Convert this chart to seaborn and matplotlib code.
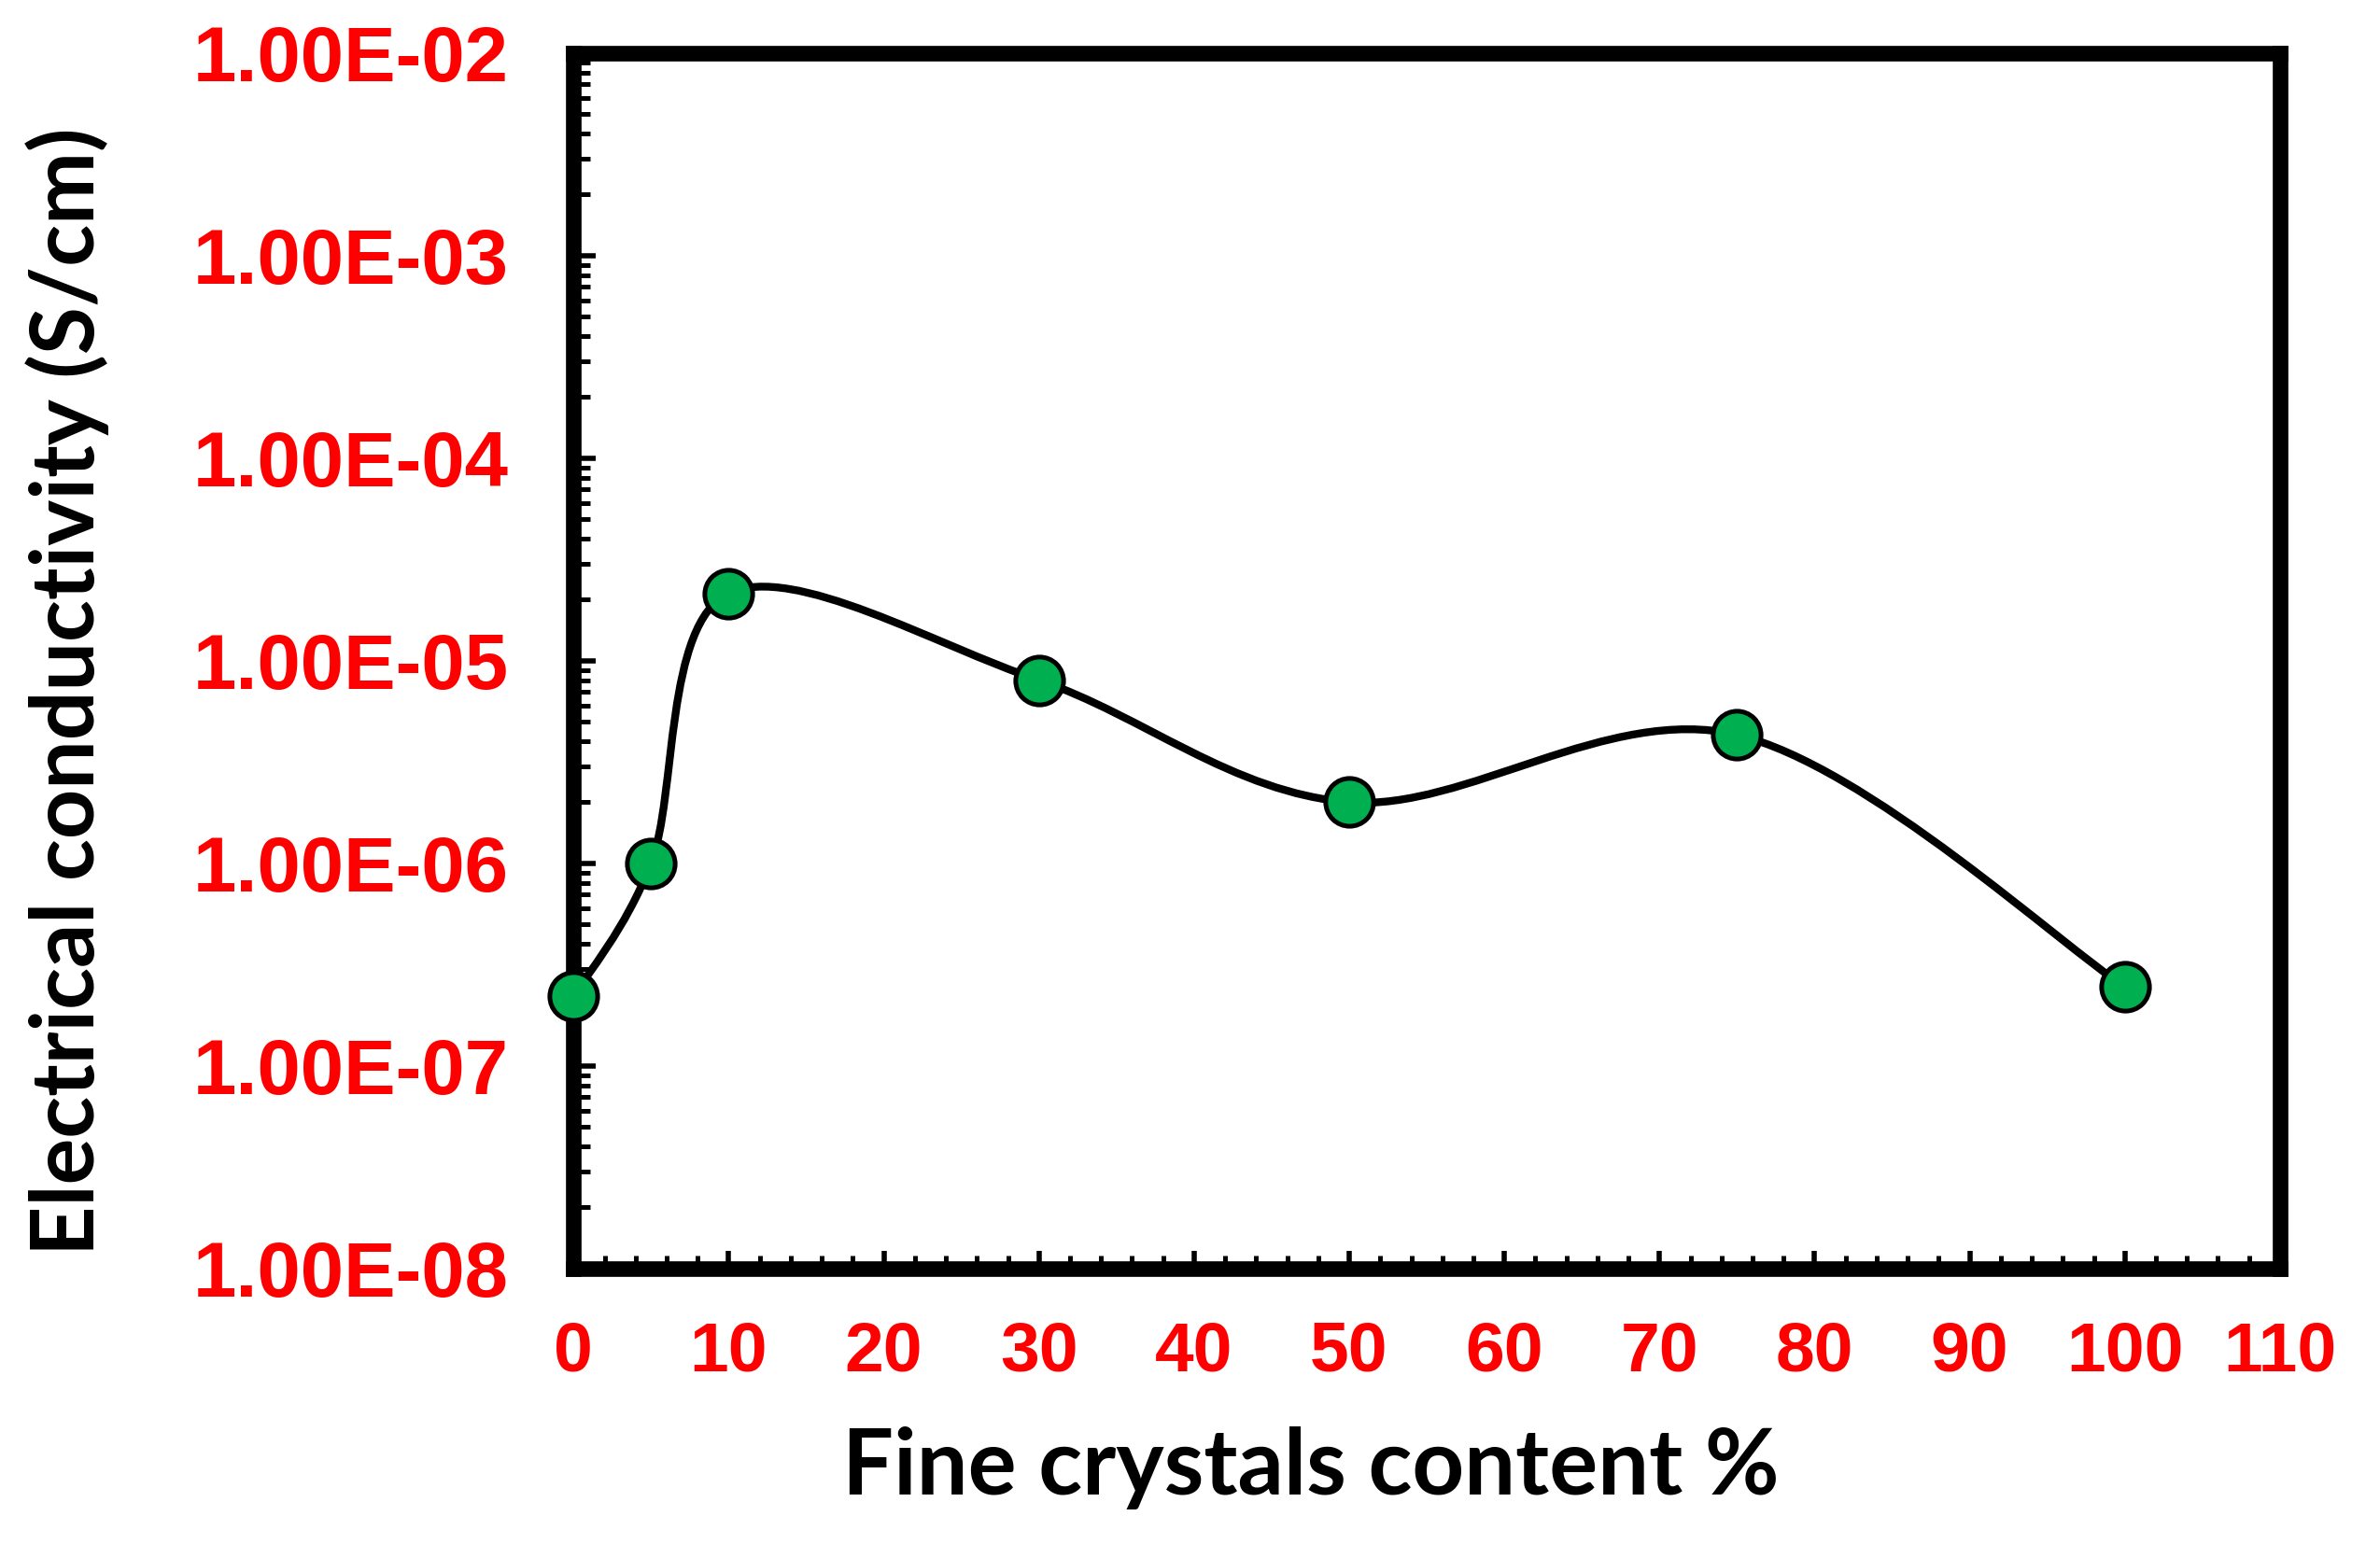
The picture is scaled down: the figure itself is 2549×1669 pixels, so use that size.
import numpy as np
import pandas as pd
import matplotlib
matplotlib.use("Agg")
import matplotlib.pyplot as plt
import seaborn as sns
from matplotlib.path import Path
from matplotlib.patches import PathPatch
from matplotlib.ticker import MultipleLocator, LogLocator, FuncFormatter, NullFormatter

# data
content = [0, 5, 10, 30, 50, 75, 100]
conductivity = [2.2e-7, 1.0e-6, 2.15e-5, 8.0e-6, 2.0e-6, 4.3e-6, 2.45e-7]

x_ticks = list(range(0, 111, 10))
y_ticks = [1e-8, 1e-7, 1e-6, 1e-5, 1e-4, 1e-3, 1e-2]

sns.set_style("white")
plt.rcParams['font.family'] = ['Liberation Sans', 'DejaVu Sans']

df = pd.DataFrame({'content': content, 'conductivity': conductivity})

fig = plt.figure(figsize=(12.745, 8.345), dpi=200)
ax = fig.add_axes([0.241, 0.186, 0.717, 0.780])
ax.set_yscale('log')

# smoothed line (Excel-style bezier through the points, built in x / log10(y) space)
lx = np.array(content, dtype=float)
ly = np.log10(conductivity)
n = len(lx)
verts = [(lx[0], ly[0])]
codes = [Path.MOVETO]
for i in range(n - 1):
    a = i - 1 if i > 0 else i
    b = i + 2 if i + 2 < n else i + 1
    c1 = (lx[i] + (lx[i + 1] - lx[a]) / 6, ly[i] + (ly[i + 1] - ly[a]) / 6)
    c2 = (lx[i + 1] - (lx[b] - lx[i]) / 6, ly[i + 1] - (ly[b] - ly[i]) / 6)
    verts += [c1, c2, (lx[i + 1], ly[i + 1])]
    codes += [Path.CURVE4] * 3
verts = [(vx, 10 ** vy) for vx, vy in verts]
ax.add_patch(PathPatch(Path(verts, codes), facecolor='none', edgecolor='black',
                       lw=3.0, zorder=2, clip_on=False))

sns.scatterplot(data=df, x='content', y='conductivity', ax=ax, s=340,
                color='#00B050', edgecolor='black', linewidth=1.8, zorder=3,
                clip_on=False, legend=False)

ax.set_xlim(0, 110)
ax.set_ylim(1e-8, 1e-2)
ax.set_xticks(x_ticks)
ax.xaxis.set_minor_locator(MultipleLocator(2))
ax.set_yticks(y_ticks)
ax.yaxis.set_minor_locator(LogLocator(base=10, subs=np.arange(2, 10)))
ax.yaxis.set_minor_formatter(NullFormatter())
ax.yaxis.set_major_formatter(FuncFormatter(lambda v, p: f"{v:.2E}"))

for s in ax.spines.values():
    s.set_linewidth(6)
    s.set_color('black')

ax.tick_params(axis='both', which='both', direction='in', color='black',
               bottom=True, left=True, top=False, right=False)
ax.tick_params(axis='y', which='major', length=8.5, width=2.0)
ax.tick_params(axis='y', which='minor', length=6.5, width=1.8)
ax.tick_params(axis='x', which='major', length=7, width=2.0)
ax.tick_params(axis='x', which='minor', length=5, width=1.8)
ax.tick_params(axis='y', which='major', pad=25, labelsize=30, labelcolor='#FF0000')
ax.tick_params(axis='x', which='major', pad=20, labelsize=27, labelcolor='#FF0000')
for lab in ax.get_xticklabels() + ax.get_yticklabels():
    lab.set_fontweight('bold')

ax.set_xlabel('Fine crystals content %', fontsize=35, fontweight='bold',
              color='black', family=['Lato', 'DejaVu Sans'])
ax.set_ylabel('Electrical conductivity (S/cm)', fontsize=33.5, fontweight='bold',
              color='black', family=['Lato', 'DejaVu Sans'])
ax.xaxis.set_label_coords(0.432, -0.13)
ax.yaxis.set_label_coords(-0.272, 0.475)

fig.savefig('out.png', dpi=200, facecolor='white')
